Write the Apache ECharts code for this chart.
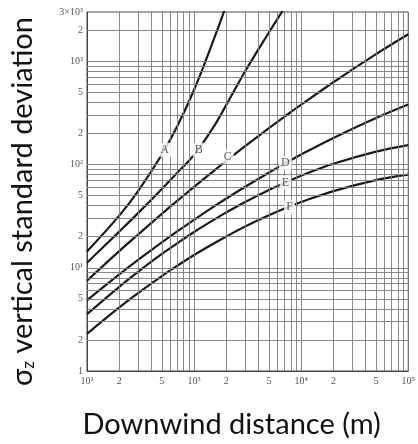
<!DOCTYPE html>
<html>
<head>
<meta charset="utf-8">
<script src="https://cdn.jsdelivr.net/npm/echarts@6/dist/echarts.min.js"></script>
<style>
  html, body { margin: 0; padding: 0; background: #fff; }
  #main { width: 418px; height: 444px; }
</style>
</head>
<body>
<div id="main"></div>
<script>
// downwind distance (m)
var distance = [100, 200, 300, 500, 700, 1000, 1500, 2000, 3000, 5000, 7000, 10000, 20000, 50000, 100000];
// sigma z (m) for stability classes A..F
var sigmaA = [14.4, 32, 55.3, 125, 237, 530, 1550, 3500, null, null, null, null, null, null, null];
var sigmaB = [11.2, 22.4, 33.8, 57.9, 83.8, 124, 226, 378, 800, 1900, 3300, null, null, null, null];
var sigmaC = [7.5, 14.5, 21, 33.3, 44.7, 60.8, 85.5, 108.4, 150.4, 224.8, 290.7, 379.7, 626.6, 1171, 1824];
var sigmaD = [4.84, 8.61, 11.9, 17.6, 22.6, 29.1, 38.6, 46.8, 60.9, 83.5, 102, 125, 181, 282.5, 381.6];
var sigmaE = [3.55, 6.54, 9.13, 13.6, 17.3, 22.2, 28.8, 34.4, 43.4, 56.7, 66.5, 77.9, 101.6, 133.2, 154];
var sigmaF = [2.29, 4.13, 5.69, 8.31, 10.5, 13.3, 17, 20.1, 25.1, 32.2, 37.4, 43.3, 55.3, 70.6, 79.8];

// curve labels
var classNames = ["A", "B", "C", "D", "E", "F"];
var labelX = [531, 1104, 2065, 7110, 7110, 7780];
var labelY = [139, 139, 119, 103, 66.5, 38.5];

// tick labels
var xTickValues = [100, 200, 500, 1000, 2000, 5000, 10000, 20000, 50000, 100000];
var xTickLabels = ["10²", "2", "5", "10³", "2", "5", "10⁴", "2", "5", "10⁵"];
var yTickValues = [1, 2, 5, 10, 20, 50, 100, 200, 500, 1000, 2000, 3000];
var yTickLabels = ["1", "2", "5", "10¹", "2", "5", "10²", "2", "5", "10³", "2", "3×10³"];

// log grid lines
var gridX = [200, 300, 400, 500, 600, 700, 800, 900, 1000, 2000, 3000, 4000, 5000, 6000, 7000, 8000, 9000,
    10000, 20000, 30000, 40000, 50000, 60000, 70000, 80000, 90000];
var gridY = [2, 3, 4, 5, 6, 7, 8, 9, 10, 20, 30, 40, 50, 60, 70, 80, 90, 100,
    200, 300, 400, 500, 600, 700, 800, 900, 1000, 2000];

function pickLabel(values, labels, v) {
    for (var i = 0; i < values.length; i++) {
        if (Math.abs(Math.log10(values[i]) - Math.log10(v)) < 1e-6) return labels[i];
    }
    return "";
}

function pairs(ys) {
    return distance.map(function (x, i) {
        return [x, ys[i]];
    });
}

var myChart = echarts.init(document.getElementById("main"));

var gridLines = [];
gridX.forEach(function (v) { gridLines.push({ xAxis: v }); });
gridY.forEach(function (v) { gridLines.push({ yAxis: v }); });

var curveStyle = { color: "#1a1a1a", width: 2.2 };
var allCurves = [sigmaA, sigmaB, sigmaC, sigmaD, sigmaE, sigmaF];

var series = [
    {
        // grid
        type: "line",
        data: [],
        silent: true,
        z: 1,
        markLine: {
            silent: true,
            symbol: "none",
            animation: false,
            label: { show: false },
            lineStyle: { color: "#7d7d7d", width: 0.9, type: "solid" },
            data: gridLines,
        },
    },
];

allCurves.forEach(function (ys, i) {
    series.push({
        name: classNames[i],
        type: "line",
        data: pairs(ys),
        smooth: 0.4,
        showSymbol: false,
        symbol: "none",
        lineStyle: curveStyle,
        z: 3,
    });
});

series.push({
    type: "scatter",
    symbolSize: 0,
    z: 5,
    data: classNames.map(function (n, i) {
        return { name: n, value: [labelX[i], labelY[i]] };
    }),
    label: {
        show: true,
        position: "inside",
        formatter: "{b}",
        fontFamily: "Liberation Serif",
        fontSize: 12,
        color: "#333",
        backgroundColor: "#fff",
        padding: [1, 2],
    },
});

var tickFont = { fontFamily: "Liberation Serif", fontSize: 10, color: "#555" };

var option = {
    animation: false,
    grid: {
        left: 87,
        top: 12,
        right: 1,
        bottom: 65,
        show: true,
        borderColor: "#444",
        borderWidth: 1,
    },
    xAxis: {
        type: "log",
        min: 100,
        max: 100000,
        name: "Downwind distance (m)",
        nameLocation: "middle",
        nameGap: 39,
        nameTextStyle: {
            fontFamily: "Lato",
            fontSize: 29,
            color: "#111",
            padding: [0, 32, 0, 0],
        },
        axisLine: { show: true, lineStyle: { color: "#444" } },
        axisTick: { show: false },
        splitLine: { show: false },
        axisLabel: Object.assign({
            customValues: xTickValues,
            margin: 5,
            formatter: function (v) { return pickLabel(xTickValues, xTickLabels, v); },
        }, tickFont),
    },
    yAxis: {
        type: "log",
        min: 1,
        max: 3000,
        name: "σ{sub|z} vertical standard deviation",
        nameLocation: "middle",
        nameGap: 50,
        nameTextStyle: {
            fontFamily: "Lato",
            fontSize: 29,
            color: "#111",
            padding: [0, 20, 0, 0],
            rich: {
                sub: { fontFamily: "Lato", fontSize: 17, color: "#111", verticalAlign: "bottom", padding: [12, 0, 0, 0] },
            },
        },
        axisLine: { show: true, lineStyle: { color: "#444" } },
        axisTick: { show: false },
        splitLine: { show: false },
        axisLabel: Object.assign({
            customValues: yTickValues,
            margin: 4,
            formatter: function (v) { return pickLabel(yTickValues, yTickLabels, v); },
        }, tickFont),
    },
    series: series,
};

myChart.setOption(option);
</script>
</body>
</html>
